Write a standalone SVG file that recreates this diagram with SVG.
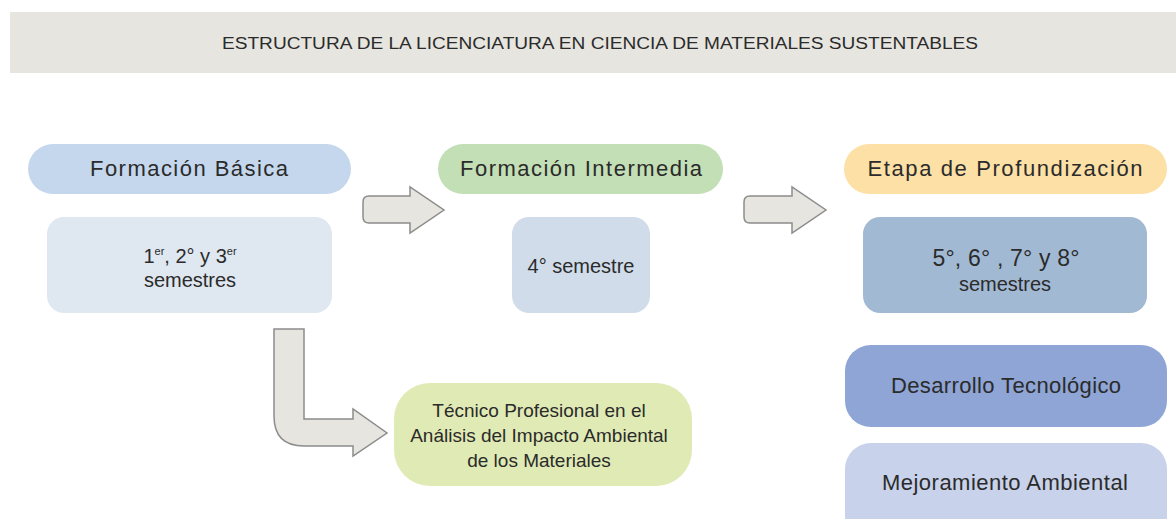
<svg xmlns="http://www.w3.org/2000/svg" width="1176" height="519" viewBox="0 0 1176 519">
<style>
text{font-family:"Liberation Sans",Arial,sans-serif;fill:#2b2b2b;text-anchor:middle}
.h{font-size:22px}
.b{font-size:20px}
.s{font-size:19px}
.t{font-size:16px}
.arrow{fill:#e6e5df;stroke:#8c8c8c;stroke-width:1.5;stroke-linejoin:miter}
</style>
<rect width="1176" height="519" fill="#ffffff"/>
<g id="header">
<rect x="10" y="12" width="1166" height="61" fill="#e6e5df"/>
<text class="t" x="600" y="49" textLength="756" lengthAdjust="spacingAndGlyphs">ESTRUCTURA DE LA LICENCIATURA EN CIENCIA DE MATERIALES SUSTENTABLES</text>
</g>
<g id="formacion-basica">
<rect x="28" y="144" width="323" height="50" rx="25" fill="#c5d7ec"/>
<text class="h" x="189" y="176" textLength="198" lengthAdjust="spacing">Formación Básica</text>
</g>
<g id="semestres-1-3">
<rect x="47" y="217" width="285" height="96" rx="17" fill="#dfe7f0"/>
<text class="b" x="190" y="263">1<tspan font-size="11" dy="-8">er</tspan><tspan dy="8">, 2° y 3</tspan><tspan font-size="11" dy="-8">er</tspan></text>
<text class="b" x="190" y="287">semestres</text>
</g>
<g id="formacion-intermedia">
<rect x="438" y="144" width="285" height="50" rx="25" fill="#c3dfb5"/>
<text class="h" x="581" y="176" textLength="242" lengthAdjust="spacing">Formación Intermedia</text>
</g>
<g id="semestre-4">
<rect x="512" y="217" width="138" height="96" rx="17" fill="#d0dcea"/>
<text class="b" x="581" y="273">4° semestre</text>
</g>
<g id="etapa-profundizacion">
<rect x="844" y="144" width="323" height="50" rx="25" fill="#fde0a6"/>
<text class="h" x="1005" y="176" textLength="275" lengthAdjust="spacing">Etapa de Profundización</text>
</g>
<g id="semestres-5-8">
<rect x="863" y="217" width="284" height="96" rx="17" fill="#a2b9d4"/>
<text x="1006" y="266" font-size="23" textLength="147" lengthAdjust="spacing">5°, 6° , 7° y 8°</text>
<text class="b" x="1005" y="291">semestres</text>
</g>
<g id="desarrollo-tecnologico">
<rect x="845" y="345" width="322" height="82" rx="26" fill="#8ea5d5"/>
<text class="h" x="1006" y="393" font-size="20" textLength="230" lengthAdjust="spacing">Desarrollo Tecnológico</text>
</g>
<g id="mejoramiento-ambiental">
<rect x="845" y="443" width="322" height="100" rx="26" fill="#c8d2ea"/>
<text class="h" x="1005" y="490" font-size="20" textLength="246" lengthAdjust="spacing">Mejoramiento Ambiental</text>
</g>
<g id="tecnico-profesional">
<rect x="394" y="383" width="298" height="103" rx="36" fill="#e0eab4"/>
<text class="s" x="539" y="417">Técnico Profesional en el</text>
<text class="s" x="539" y="442">Análisis del Impacto Ambiental</text>
<text class="s" x="539" y="467">de los Materiales</text>
</g>
<g id="connectors">
<path class="arrow" d="M369,196 H410 V187 L444,210 L410,233 V223 H369 Q363,223 363,217 V202 Q363,196 369,196 Z"/>
<path class="arrow" d="M750,196 H792 V187 L826,210 L792,233 V223 H750 Q744,223 744,217 V202 Q744,196 750,196 Z"/>
<path class="arrow" d="M274,329 H304 V419 H353 V409 L387,433 L353,456 V446 H304 Q274,446 274,416 Z"/>
</g>
</svg>
